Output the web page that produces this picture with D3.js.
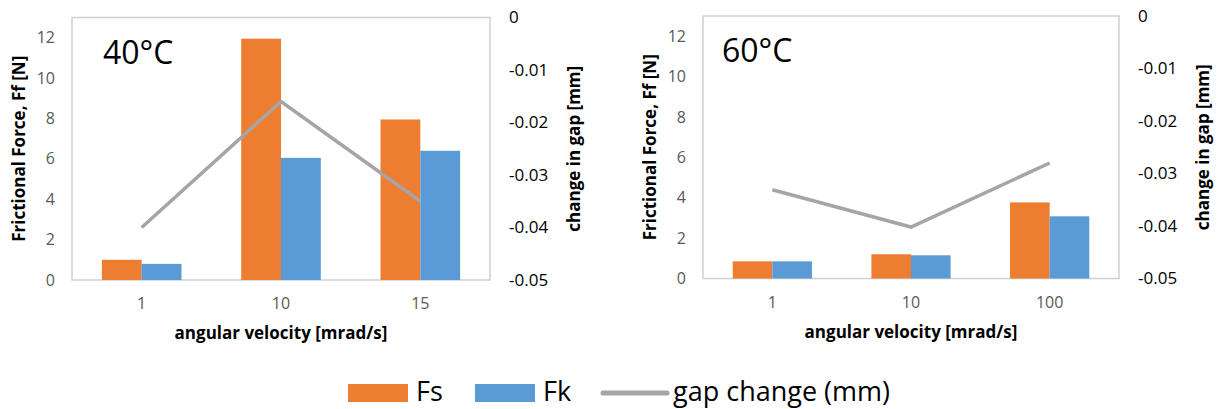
<!DOCTYPE html>
<html>
<head>
<meta charset="utf-8">
<script src="https://cdn.jsdelivr.net/npm/d3@7"></script>
<style>
  body { margin: 0; background: #fff; }
  text { font-family: "Open Sans", "Noto Sans", sans-serif; }
</style>
</head>
<body>
<script>
// data
var categories40 = ['1', '10', '15'];
var fs40 = [1.0, 11.95, 7.95];
var fk40 = [0.8, 6.05, 6.4];
var gap40 = [-0.040, -0.016, -0.035];

var categories60 = ['1', '10', '100'];
var fs60 = [0.85, 1.2, 3.77];
var fk60 = [0.85, 1.15, 3.08];
var gap60 = [-0.0331, -0.0402, -0.028];

var forceTicks = [0, 2, 4, 6, 8, 10, 12];
var gapTicks = [0, -0.01, -0.02, -0.03, -0.04, -0.05];
var seriesNames = ['Fs', 'Fk'];
var lineName = 'gap change (mm)';

var width = 1220;
var height = 409;
var colors = { Fs: '#ED7D31', Fk: '#5B9BD5', gap: '#A5A5A5' };

var svg = d3.select('body')
  .append('svg')
  .attr('width', width)
  .attr('height', height);

drawPanel({ left: 72, right: 490, top: 17.5, bottom: 280, title: '40°C', titleX: 103,
  cats: categories40, fs: fs40, fk: fk40, gap: gap40 });
drawPanel({ left: 703, right: 1119, top: 16, bottom: 278.5, title: '60°C', titleX: 722,
  cats: categories60, fs: fs60, fk: fk60, gap: gap60 });

function drawPanel(p) {
  var g = svg.append('g');

  var xScale = d3.scaleBand()
    .domain(p.cats)
    .range([p.left, p.right]);
  var xInner = d3.scaleBand()
    .domain(seriesNames)
    .range([0, xScale.bandwidth()])
    .paddingOuter(0.75);
  var yScale = d3.scaleLinear()
    .domain([0, 13])
    .range([p.bottom, p.top]);
  var y2Scale = d3.scaleLinear()
    .domain([-0.05, 0])
    .range([p.bottom, p.top]);

  // frame
  g.append('rect')
    .attr('x', p.left)
    .attr('y', p.top)
    .attr('width', p.right - p.left)
    .attr('height', p.bottom - p.top)
    .attr('fill', 'none')
    .attr('stroke', '#D0D0D0')
    .attr('stroke-width', 1.5);

  // bars
  var rows = p.cats.map(function (c, i) {
    return { cat: c, Fs: p.fs[i], Fk: p.fk[i] };
  });
  g.append('g')
    .selectAll('g')
    .data(rows)
    .enter()
    .append('g')
    .attr('transform', function (d) { return 'translate(' + xScale(d.cat) + ',0)'; })
    .selectAll('rect')
    .data(function (d) { return seriesNames.map(function (k) { return { key: k, value: d[k] }; }); })
    .enter()
    .append('rect')
    .attr('x', function (d) { return xInner(d.key); })
    .attr('width', xInner.bandwidth())
    .attr('y', function (d) { return yScale(d.value); })
    .attr('height', function (d) { return yScale(0) - yScale(d.value); })
    .attr('fill', function (d) { return colors[d.key]; });

  // gap line
  var linePath = d3.line()
    .x(function (d, i) { return xScale(p.cats[i]) + xScale.bandwidth() / 2; })
    .y(function (d) { return y2Scale(d); });
  g.append('path')
    .attr('d', linePath(p.gap))
    .attr('fill', 'none')
    .attr('stroke', colors.gap)
    .attr('stroke-width', 3.5);

  // axes
  var yAxis = d3.axisLeft(yScale).tickValues(forceTicks).tickSize(0).tickPadding(17);
  var y2Axis = d3.axisRight(y2Scale).tickValues(gapTicks).tickSize(0).tickPadding(19)
    .tickFormat(function (d) { return String(d); });
  var xAxis = d3.axisBottom(xScale).tickSize(0).tickPadding(18);

  var ax = [
    g.append('g').attr('transform', 'translate(' + p.left + ',0)').call(yAxis),
    g.append('g').attr('transform', 'translate(' + p.right + ',0)').call(y2Axis),
    g.append('g').attr('transform', 'translate(0,' + p.bottom + ')').call(xAxis)
  ];
  ax.forEach(function (a) {
    a.select('.domain').remove();
    a.selectAll('text')
      .attr('font-family', '"Open Sans", sans-serif')
      .attr('font-size', 16)
      .attr('fill', '#595959');
  });
  ax[1].selectAll('text').attr('fill', '#000').attr('font-size', 17);

  // axis titles
  g.append('text')
    .attr('transform', 'translate(' + (p.left - 53) + ',' + ((p.top + p.bottom) / 2) + ') rotate(-90)')
    .attr('text-anchor', 'middle')
    .attr('dy', '0.35em')
    .attr('font-size', 17)
    .attr('font-weight', 'bold')
    .text('Frictional Force, Ff [N]');
  g.append('text')
    .attr('transform', 'translate(' + (p.right + 84) + ',' + ((p.top + p.bottom) / 2) + ') rotate(-90)')
    .attr('text-anchor', 'middle')
    .attr('dy', '0.35em')
    .attr('font-size', 17)
    .attr('font-weight', 'bold')
    .text('change in gap [mm]');
  g.append('text')
    .attr('x', (p.left + p.right) / 2)
    .attr('y', p.bottom + 59)
    .attr('text-anchor', 'middle')
    .attr('font-size', 17)
    .attr('font-weight', 'bold')
    .text('angular velocity [mrad/s]');

  // temperature label
  g.append('text')
    .attr('x', p.titleX)
    .attr('y', p.top + 46)
    .attr('font-size', 32)
    .text(p.title);
}

// legend
var legend = svg.append('g');
var legendItems = [
  { label: 'Fs', x: 348, type: 'rect', color: colors.Fs },
  { label: 'Fk', x: 475, type: 'rect', color: colors.Fk },
  { label: lineName, x: 603, type: 'line', color: colors.gap }
];
legendItems.forEach(function (d) {
  if (d.type === 'rect') {
    legend.append('rect')
      .attr('x', d.x).attr('y', 384)
      .attr('width', 60).attr('height', 18)
      .attr('fill', d.color);
  } else {
    legend.append('line')
      .attr('x1', d.x).attr('x2', d.x + 64)
      .attr('y1', 393).attr('y2', 393)
      .attr('stroke', d.color)
      .attr('stroke-width', 5)
      .attr('stroke-linecap', 'round');
  }
  legend.append('text')
    .attr('x', d.x + (d.type === 'rect' ? 68 : 70))
    .attr('y', 401)
    .attr('font-size', 27)
    .text(d.label);
});
</script>
</body>
</html>
